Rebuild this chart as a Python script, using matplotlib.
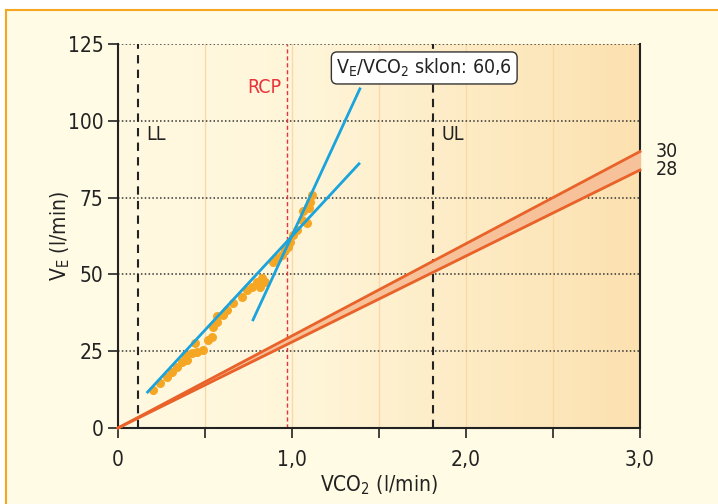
import matplotlib.pyplot as plt
import numpy as np
from matplotlib.colors import LinearSegmentedColormap
from matplotlib.patches import Rectangle

plt.rcParams['font.family'] = ['DejaVu Sans']
plt.rcParams['font.stretch'] = 'condensed'

# data
vco2 = [0.203, 0.241, 0.28, 0.309, 0.337, 0.366, 0.385, 0.395, 0.423, 0.443, 0.452,
        0.49, 0.519, 0.538, 0.548, 0.567, 0.567, 0.601, 0.624, 0.663, 0.711, 0.74,
        0.768, 0.797, 0.816, 0.826, 0.845, 0.893, 0.921, 0.94, 0.96, 0.979, 0.989,
        1.007, 1.026, 1.055, 1.065, 1.084, 1.094, 1.099, 1.103, 1.113]
ve = [12.4, 14.5, 16.7, 18.3, 19.9, 21.6, 23.8, 22.1, 24.3, 27.6, 24.8,
      25.4, 28.6, 29.7, 33.0, 34.6, 36.5, 36.8, 38.4, 40.6, 42.7, 44.9,
      46.0, 47.6, 46.0, 48.7, 47.6, 54.1, 55.2, 56.3, 57.9, 59.0, 60.7,
      62.8, 64.5, 67.7, 70.5, 66.7, 72.1, 71.5, 73.7, 75.8]
fit1_x = [0.17, 1.385]
fit1_y = [11.7, 86.0]
fit2_x = [0.776, 1.39]
fit2_y = [35.2, 110.4]
ref_slopes = [30, 28]
ll, rcp, ul = 0.115, 0.97, 1.81

fig = plt.figure(figsize=(7.18, 5.04), dpi=100)
fig.patch.set_facecolor('white')
fig.patches.append(Rectangle((6/718, -0.01), 1.0, 1 - 10/504 + 0.01, transform=fig.transFigure,
                             facecolor='#FFFBE4', edgecolor='#F5A623', lw=1.5, zorder=-10))
ax = fig.add_axes([118/718, 1 - 428/504, 522/718, 384/504])
ax.set_xlim(0, 3)
ax.set_ylim(0, 125)

# gradient background
cmap = LinearSegmentedColormap.from_list('bg', [(0, '#FFF9E1'), (0.33, '#FFF6DA'), (1, '#FCE1B0')])
grad = np.linspace(0, 1, 256).reshape(1, -1)
ax.imshow(grad, cmap=cmap, aspect='auto', extent=[0, 3, 0, 125], zorder=0)

for xv in [0.5, 1.0, 1.5, 2.0, 2.5]:
    ax.axvline(xv, color='#F9D9A8', lw=1, zorder=1)
for yv in [25, 50, 75, 100, 125]:
    ax.axhline(yv, color='#333333', lw=1.1, ls=(0, (1, 1.5)), zorder=1)

ax.axvline(ll, color='#222222', lw=1.5, ls=(0, (4, 3)), zorder=2)
ax.axvline(ul, color='#222222', lw=1.5, ls=(0, (4, 3)), zorder=2)
ax.axvline(rcp, color='#E8343A', lw=1, ls=(0, (3, 2)), zorder=2)

# reference lines
xr = np.array([0, 3])
ax.fill_between(xr, ref_slopes[0] * xr, ref_slopes[1] * xr, color='#F7C29A', zorder=3)
for s in ref_slopes:
    ax.plot(xr, s * xr, color='#E8622A', lw=2, zorder=4, clip_on=False)
    ax.text(3.09, s * 3, str(s), fontsize=14, va='center', ha='left', color='#222222')

ax.plot(vco2, ve, 'o', color='#F5A623', ms=6.5, mec='none', zorder=5)
ax.plot(fit1_x, fit1_y, color='#1AA3DC', lw=2, zorder=6)
ax.plot(fit2_x, fit2_y, color='#1AA3DC', lw=2, zorder=6)

ax.text(0.16, 95.5, 'LL', fontsize=14, va='center', ha='left', color='#222222')
ax.text(1.86, 95.5, 'UL', fontsize=14, va='center', ha='left', color='#222222')
ax.text(0.84, 111, 'RCP', fontsize=14, va='center', ha='center', color='#E8343A')
ax.text(1.76, 117.2, r'V$_\mathregular{E}$/VCO$_\mathregular{2}$ sklon: 60,6', fontsize=14,
        va='center', ha='center', color='#222222', zorder=8,
        bbox=dict(boxstyle='round,pad=0.25,rounding_size=0.3', fc='white', ec='#333333', lw=1))

for sp in ['left', 'bottom', 'right']:
    ax.spines[sp].set_linewidth(1.5)
    ax.spines[sp].set_color('#222222')
ax.spines['top'].set_visible(False)

ax.set_xticks([0, 0.5, 1, 1.5, 2, 2.5, 3])
ax.set_xticklabels(['0', '', '1,0', '', '2,0', '', '3,0'])
ax.set_yticks([0, 25, 50, 75, 100, 125])
ax.tick_params(axis='both', direction='out', length=7, width=1.2, labelsize=15, colors='#222222')
ax.tick_params(axis='x', pad=9)
ax.set_xlabel(r'VCO$_\mathregular{2}$ (l/min)', fontsize=15, color='#222222', labelpad=2)
ax.set_ylabel(r'V$_\mathregular{E}$ (l/min)', fontsize=15, color='#222222', labelpad=-3)

fig.savefig('out.png', dpi=100)
